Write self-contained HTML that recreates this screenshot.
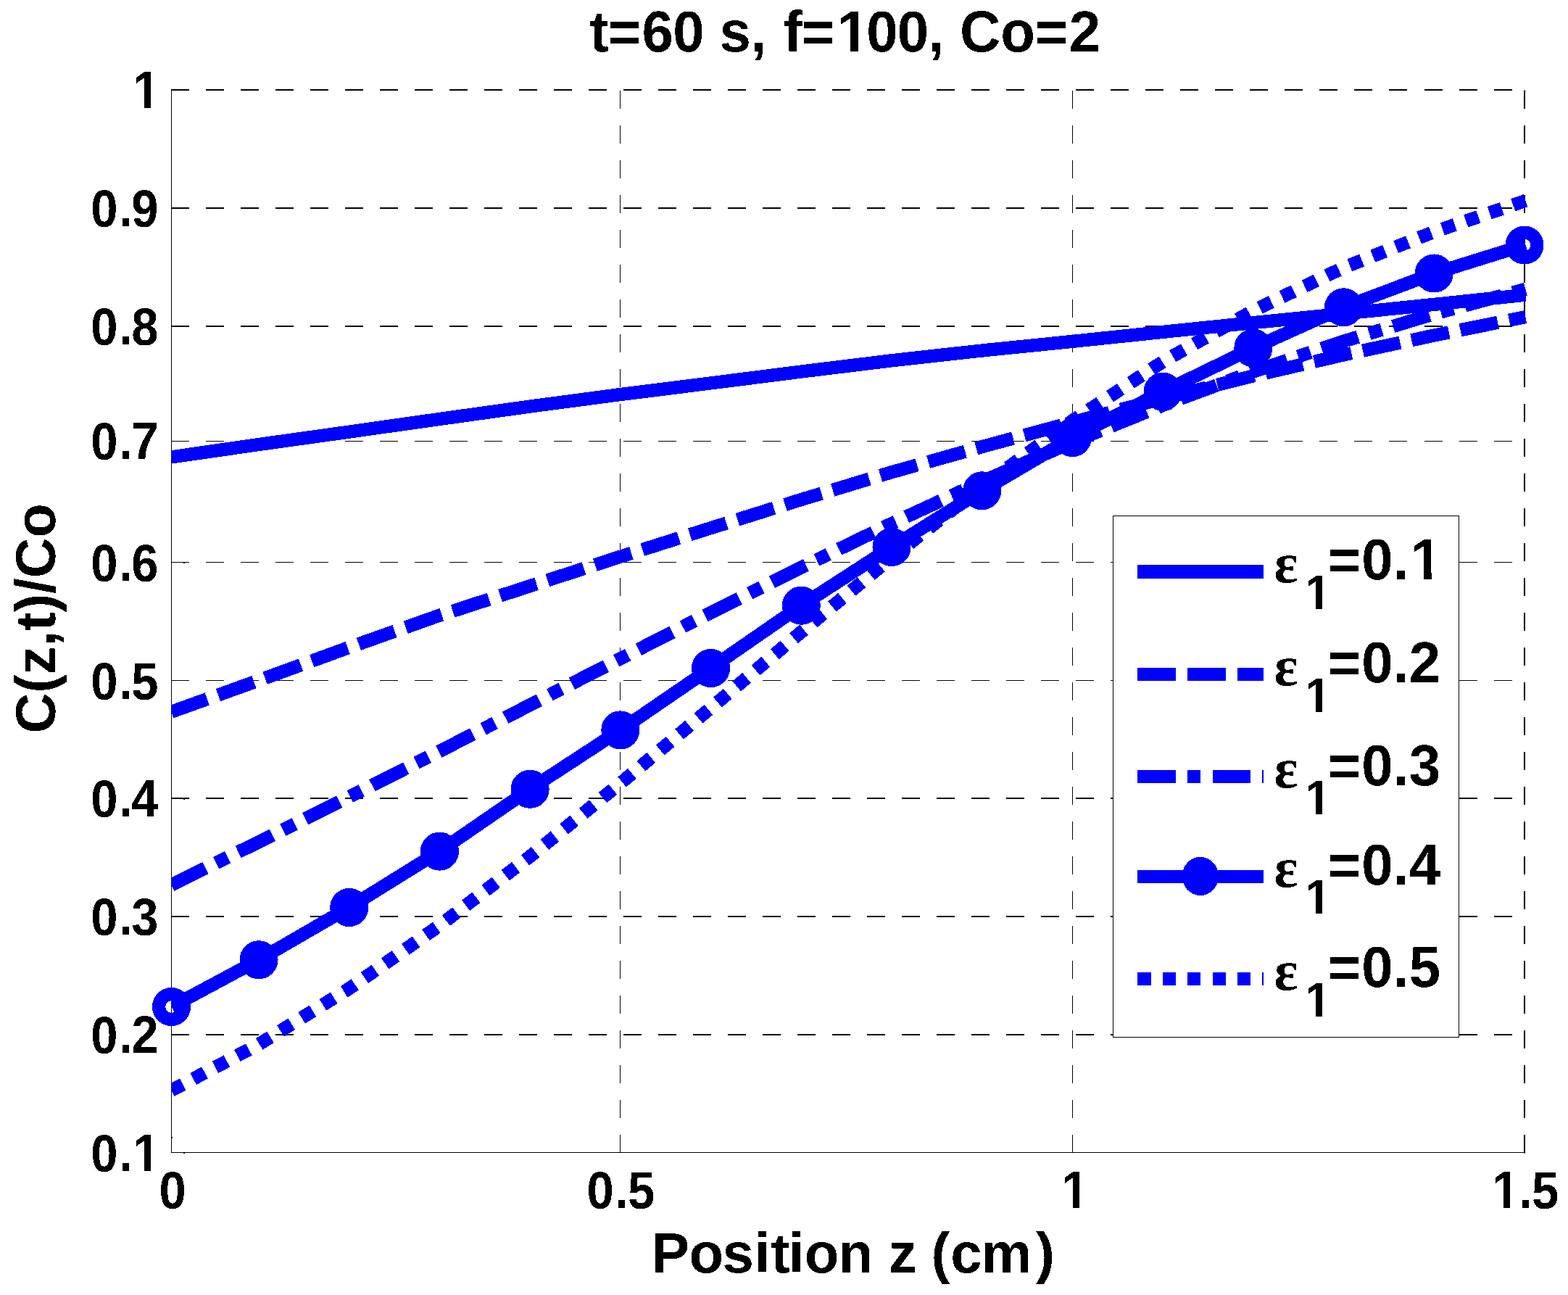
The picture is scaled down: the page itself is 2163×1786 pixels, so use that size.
<!DOCTYPE html>
<html lang="en"><head><meta charset="utf-8"><title>t=60 s, f=100, Co=2</title>
<style>html,body{margin:0;padding:0;background:#fff;}body{width:2163px;height:1786px;overflow:hidden;}svg{display:block;}text{font-family:"Liberation Sans",sans-serif;font-weight:bold;fill:#000;font-kerning:none;}.eps{font-family:"Liberation Serif",serif;font-weight:bold;}</style></head><body>
<svg xmlns="http://www.w3.org/2000/svg" width="2163" height="1786" viewBox="0 0 2163 1786" shape-rendering="crispEdges">
<defs>
<filter id="crisp" filterUnits="userSpaceOnUse" x="0" y="0" width="2163" height="1786" color-interpolation-filters="sRGB"><feComponentTransfer><feFuncA type="discrete" tableValues="0 1"/></feComponentTransfer></filter>
<clipPath id="axclip"><rect x="236" y="100" width="1880" height="1500"/></clipPath>
<clipPath id="nofoot"><path clip-rule="evenodd" d="M0,0H2163V1786H0Z M1158.52,62.28H1173.00V73.00H1158.52Z M1184.00,62.28H1197.81V73.00H1184.00Z M185.92,140.98H199.00V151.00H185.92Z M208.00,140.98H220.10V151.00H208.00Z M185.92,1606.98H199.00V1617.00H185.92Z M208.00,1606.98H220.10V1617.00H208.00Z M1466.92,1657.98H1480.00V1668.00H1466.92Z M1489.00,1657.98H1501.10V1668.00H1489.00Z M2061.02,1657.98H2074.00V1668.00H2061.02Z M2083.00,1657.98H2095.20V1668.00H2083.00Z M1802.93,832.57H1815.00V842.00H1802.93Z M1824.00,832.57H1835.71V842.00H1824.00Z M1949.01,790.28H1964.00V801.00H1949.01Z M1975.00,790.28H1988.31V801.00H1975.00Z M1802.93,974.57H1815.00V984.00H1802.93Z M1824.00,974.57H1835.71V984.00H1824.00Z M1802.93,1115.57H1815.00V1125.00H1802.93Z M1824.00,1115.57H1835.71V1125.00H1824.00Z M1802.93,1252.57H1815.00V1262.00H1802.93Z M1824.00,1252.57H1835.71V1262.00H1824.00Z M1802.93,1394.57H1815.00V1404.00H1802.93Z M1824.00,1394.57H1835.71V1404.00H1824.00Z"/></clipPath>
</defs>
<rect x="0" y="0" width="2163" height="1786" fill="#fff"/>
<g id="grid" fill="none" stroke="#000">
<line x1="236" y1="124" x2="2104" y2="124" stroke-width="2" stroke-dasharray="25 23.014"/>
<line x1="236" y1="287" x2="2104" y2="287" stroke-width="2" stroke-dasharray="25 23.014"/>
<line x1="236" y1="450" x2="2104" y2="450" stroke-width="2" stroke-dasharray="25 23.014"/>
<line x1="236" y1="608.5" x2="2104" y2="608.5" stroke-width="1" stroke-dasharray="25 23.014"/>
<line x1="236" y1="775.5" x2="2104" y2="775.5" stroke-width="1" stroke-dasharray="25 23.014"/>
<line x1="236" y1="938.5" x2="2104" y2="938.5" stroke-width="1" stroke-dasharray="25 23.014"/>
<line x1="236" y1="1101" x2="2104" y2="1101" stroke-width="2" stroke-dasharray="25 23.014"/>
<line x1="236" y1="1264" x2="2104" y2="1264" stroke-width="2" stroke-dasharray="25 23.014"/>
<line x1="236" y1="1427" x2="2104" y2="1427" stroke-width="2" stroke-dasharray="25 23.014"/>
<line x1="855.5" y1="125" x2="855.5" y2="1590" stroke-width="1" stroke-dasharray="25 23"/>
<line x1="1479.5" y1="125" x2="1479.5" y2="1590" stroke-width="1" stroke-dasharray="25 23"/>
<line x1="2103" y1="125" x2="2103" y2="1590" stroke-width="2" stroke-dasharray="25 23"/>
</g>
<g id="axes" fill="#000">
<rect x="236" y="123" width="1" height="1467"/>
<rect x="236" y="1589" width="1867" height="1"/>
<rect x="237" y="1568" width="1" height="2"/>
<rect x="253" y="1590" width="2" height="1"/>
<rect x="253" y="776" width="2" height="1"/>
<rect x="253" y="1102" width="2" height="1"/>
<rect x="2103" y="124" width="1" height="1"/>
<rect x="2103" y="1590" width="1" height="1"/>
</g>
<g id="curves" fill="none" stroke="#0000ff" stroke-width="18.3" stroke-linejoin="round" clip-path="url(#axclip)">
<path id="c-solid" d="M236.20,630.40 L357.01,613.01 L481.72,595.60 L606.43,577.93 L731.14,560.57 L855.85,544.01 L980.56,528.40 L1105.27,512.54 L1229.98,497.28 L1354.69,483.50 L1479.40,470.88 L1604.11,457.88 L1728.82,445.08 L1853.53,432.66 L1978.24,419.89 L2104.40,406.69"/>
<path id="c-dashed" d="M236.20,981.83 L357.01,938.32 L481.72,892.85 L606.43,848.67 L731.14,808.25 L855.85,767.69 L980.56,728.20 L1105.27,689.03 L1229.98,651.27 L1354.69,616.11 L1479.40,582.38 L1604.11,549.54 L1728.82,518.47 L1853.53,489.40 L1978.24,462.55 L2104.40,437.11" stroke-dasharray="52.7 16.055"/>
<path id="c-dashdot" d="M236.20,1220.47 L357.01,1161.21 L481.72,1099.09 L606.43,1036.04 L731.14,972.31 L855.85,908.39 L980.56,844.89 L1105.27,782.52 L1229.98,722.05 L1354.69,664.20 L1479.40,609.66 L1604.11,558.99 L1728.82,512.58 L1853.53,470.61 L1978.24,432.96 L2104.40,398.81" stroke-dasharray="52.65 16.15 18.1 16.2"/>
<path id="c-marker" d="M236.50,1388.50 L357.01,1323.80 L481.72,1251.50 L606.43,1174.10 L731.14,1088.30 L855.85,1006.90 L980.56,921.50 L1105.27,835.20 L1229.98,754.50 L1354.69,676.80 L1479.40,603.60 L1604.11,540.20 L1728.82,480.00 L1853.53,423.80 L1978.24,377.00 L2104.40,337.66"/>
<path id="c-dotted" d="M236.20,1503.89 L357.01,1440.26 L481.72,1363.38 L606.43,1276.32 L731.14,1181.22 L855.85,1080.31 L980.56,976.34 L1105.27,871.63 L1229.98,768.91 L1354.69,670.92 L1479.40,580.19 L1604.11,498.87 L1728.82,428.37 L1853.53,369.05 L1978.24,319.75 L2104.40,276.84" stroke-dasharray="18.1 16.23"/>
</g>
<g id="markers" fill="none" stroke="#0000ff" stroke-width="18.25">
<circle cx="236.50" cy="1388.50" r="17.4"/>
<circle cx="357.01" cy="1323.80" r="17.4"/>
<circle cx="481.72" cy="1251.50" r="17.4"/>
<circle cx="606.43" cy="1174.10" r="17.4"/>
<circle cx="731.14" cy="1088.30" r="17.4"/>
<circle cx="855.85" cy="1006.90" r="17.4"/>
<circle cx="980.56" cy="921.50" r="17.4"/>
<circle cx="1105.27" cy="835.20" r="17.4"/>
<circle cx="1229.98" cy="754.50" r="17.4"/>
<circle cx="1354.69" cy="676.80" r="17.4"/>
<circle cx="1479.40" cy="603.60" r="17.4"/>
<circle cx="1604.11" cy="540.20" r="17.4"/>
<circle cx="1728.82" cy="480.00" r="17.4"/>
<circle cx="1853.53" cy="423.80" r="17.4"/>
<circle cx="1978.24" cy="377.00" r="17.4"/>
<circle cx="2103.00" cy="338.10" r="17.4"/>
</g>
<g id="legend">
<rect x="1535.5" y="711.5" width="477" height="719" fill="#fff" stroke="#000" stroke-width="1"/>
<line x1="1569" y1="788.5" x2="1743" y2="788.5" stroke="#0000ff" stroke-width="19"/>
<line x1="1569" y1="930" x2="1743" y2="930" stroke="#0000ff" stroke-width="18" stroke-dasharray="53 16"/>
<line x1="1569" y1="1071" x2="1743" y2="1071" stroke="#0000ff" stroke-width="18" stroke-dasharray="53 16 18 17 52 16 18 17"/>
<line x1="1569" y1="1209" x2="1743" y2="1209" stroke="#0000ff" stroke-width="18"/>
<ellipse cx="1655.8" cy="1208.4" rx="25.1" ry="26.6" fill="#0000ff"/>
<line x1="1569" y1="1350" x2="1743" y2="1350" stroke="#0000ff" stroke-width="18" stroke-dasharray="19 16 18 16 18 17 18 16 18 16 18 16"/>
</g>
<g id="text" filter="url(#crisp)">
<g clip-path="url(#nofoot)">
<text x="813.40 838.87 885.43 928.21 971.19 992.46 1035.84 1057.91 1080.98 1105.55 1155.10 1195.33 1237.86 1280.84 1302.91 1324.13 1380.36 1427.66 1474.76" y="71" font-size="78" transform="translate(0 71) scale(1 1.02) translate(0 -71)">t=60 s, f=100, Co=2</text>
<text x="898.90 950.43 996.57 1040.95 1063.62 1087.60 1109.77 1156.41 1207.56 1225.73 1268.23 1284.40 1311.37 1353.75 1429.11" y="1755" font-size="78">Position z (cm)</text>
<text x="183.20" y="149" font-size="67" transform="translate(0 149) scale(1 1.085) translate(0 -149)">1</text>
<text x="125.30 163.90 181.30" y="313 312 313" font-size="67" transform="translate(0 312) scale(1 1.085) translate(0 -312)">0.9</text>
<text x="125.30 163.90 181.30" y="476 475 476" font-size="67" transform="translate(0 475) scale(1 1.085) translate(0 -475)">0.8</text>
<text x="125.30 163.90 181.30" y="634 633 633" font-size="67" transform="translate(0 633) scale(1 1.085) translate(0 -633)">0.7</text>
<text x="125.30 163.90 181.30" y="802 801 802" font-size="67" transform="translate(0 801) scale(1 1.085) translate(0 -801)">0.6</text>
<text x="125.30 163.90 181.30" y="965 964 965" font-size="67" transform="translate(0 964) scale(1 1.085) translate(0 -964)">0.5</text>
<text x="125.30 163.90 181.30" y="1127 1126 1126" font-size="67" transform="translate(0 1126) scale(1 1.085) translate(0 -1126)">0.4</text>
<text x="125.30 163.90 181.30" y="1290 1289 1290" font-size="67" transform="translate(0 1289) scale(1 1.085) translate(0 -1289)">0.3</text>
<text x="125.30 163.90 181.30" y="1453 1452 1452" font-size="67" transform="translate(0 1452) scale(1 1.085) translate(0 -1452)">0.2</text>
<text x="125.30 163.90 183.20" y="1616 1615 1615" font-size="67" transform="translate(0 1615) scale(1 1.085) translate(0 -1615)">0.1</text>
<text x="219.40" y="1667" font-size="67" transform="translate(0 1666) scale(1 1.085) translate(0 -1666)">0</text>
<text x="809.40 848.20 865.90" y="1667 1666 1667" font-size="67" transform="translate(0 1666) scale(1 1.085) translate(0 -1666)">0.5</text>
<text x="1464.20" y="1666" font-size="67" transform="translate(0 1666) scale(1 1.085) translate(0 -1666)">1</text>
<text x="2058.30 2095.60 2112.90" y="1666 1666 1667" font-size="67" transform="translate(0 1666) scale(1 1.085) translate(0 -1666)">1.5</text>
<text class="eps" x="1757.4" y="803" font-size="78">ε</text>
<text x="1800.40" y="840" font-size="64" transform="translate(0 840) scale(1 1.045) translate(0 -840)">1</text>
<text x="1831.60 1878.30 1921.70 1945.60" y="799" font-size="78" transform="translate(0 799) scale(1 1.02) translate(0 -799)">=0.1</text>
<text class="eps" x="1757.4" y="945" font-size="78">ε</text>
<text x="1800.40" y="982" font-size="64" transform="translate(0 982) scale(1 1.045) translate(0 -982)">1</text>
<text x="1831.60 1878.30 1921.70 1943.80" y="941" font-size="78" transform="translate(0 941) scale(1 1.02) translate(0 -941)">=0.2</text>
<text class="eps" x="1757.4" y="1086" font-size="78">ε</text>
<text x="1800.40" y="1123" font-size="64" transform="translate(0 1123) scale(1 1.045) translate(0 -1123)">1</text>
<text x="1831.60 1878.30 1921.70 1943.80" y="1083" font-size="78" transform="translate(0 1083) scale(1 1.02) translate(0 -1083)">=0.3</text>
<text class="eps" x="1757.4" y="1223" font-size="78">ε</text>
<text x="1800.40" y="1260" font-size="64" transform="translate(0 1260) scale(1 1.045) translate(0 -1260)">1</text>
<text x="1831.60 1878.30 1921.70 1943.80" y="1220" font-size="78" transform="translate(0 1220) scale(1 1.02) translate(0 -1220)">=0.4</text>
<text class="eps" x="1757.4" y="1365" font-size="78">ε</text>
<text x="1800.40" y="1402" font-size="64" transform="translate(0 1402) scale(1 1.045) translate(0 -1402)">1</text>
<text x="1831.60 1878.30 1921.70 1943.80" y="1361" font-size="78" transform="translate(0 1361) scale(1 1.02) translate(0 -1361)">=0.5</text>
</g>
<text font-size="77.2" text-anchor="middle" transform="translate(75.6 853) rotate(-90)">C(z,t)/Co</text>
</g>
</svg></body></html>
